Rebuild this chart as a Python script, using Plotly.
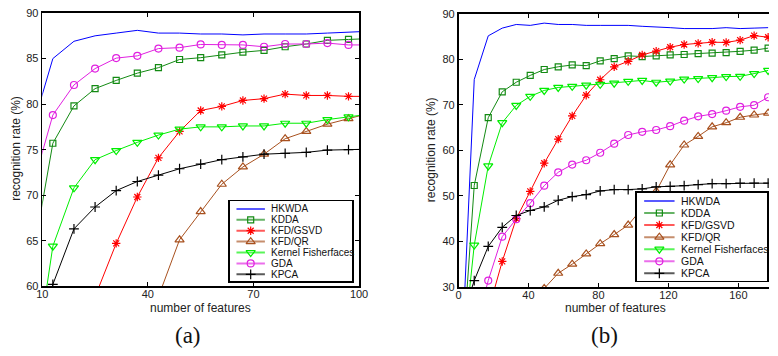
import plotly.graph_objects as go

W, H = 778, 356

# ---------------- data: panel (a) ----------------
features_a = [7, 13, 19, 25, 31, 37, 43, 49, 55, 61, 67, 73, 79, 85, 91, 97, 103]
hkwda_a = [77.1, 85.0, 86.9, 87.5, 87.8, 88.1, 87.8, 87.8, 87.7, 87.7, 87.6, 87.7, 87.7, 87.7, 87.8, 87.9, 88.0]
kdda_a = [62.5, 75.7, 79.8, 81.7, 82.6, 83.4, 84.0, 84.9, 85.1, 85.4, 85.7, 85.9, 86.3, 86.6, 87.0, 87.1, 87.2]
kfdgsvd_a = [42, 47, 53, 58.8, 64.7, 69.8, 74.1, 77.0, 79.3, 79.75, 80.4, 80.6, 81.1, 80.95, 80.95, 80.85, 80.85]
kfdqr_a = [30, 34, 38, 42, 47, 53, 58.85, 65.1, 68.2, 71.2, 73.1, 74.5, 76.2, 77.0, 77.8, 78.4, 79.0]
kfisher_a = [48.8, 64.4, 70.8, 73.9, 74.9, 75.8, 76.6, 77.25, 77.5, 77.5, 77.6, 77.6, 77.9, 77.9, 78.3, 78.6, 78.9]
gda_a = [70.6, 78.8, 82.1, 83.9, 85.05, 85.3, 86.1, 86.2, 86.55, 86.5, 86.5, 86.3, 86.6, 86.6, 86.7, 86.5, 86.5]
kpca_a = [50, 60.2, 66.3, 68.7, 70.5, 71.5, 72.2, 72.9, 73.4, 73.9, 74.2, 74.5, 74.6, 74.7, 74.95, 75.0, 75.05]

# ---------------- data: panel (b) ----------------
features_b = [1, 9, 17, 25, 33, 41, 49, 57, 65, 73, 81, 89, 97, 105, 113, 121, 129, 137, 145, 153, 161, 169, 177]
hkwda_b = [7, 75.6, 85.2, 86.9, 87.7, 87.5, 88.0, 87.7, 87.7, 87.5, 87.5, 87.5, 87.5, 87.3, 87.2, 87.0, 86.8, 86.8, 86.8, 87.0, 86.8, 86.9, 87.0]
kdda_b = [8, 52.3, 67.2, 72.9, 75.0, 76.5, 77.8, 78.4, 78.8, 78.65, 79.7, 80.2, 80.8, 80.65, 80.8, 81.0, 81.1, 81.3, 81.4, 81.5, 81.8, 82.05, 82.5]
kfdgsvd_b = [5, 15, 24.7, 35.6, 45.0, 51.0, 57.2, 62.5, 67.6, 72.15, 75.55, 78.4, 79.6, 81.0, 81.85, 82.7, 83.3, 83.55, 83.8, 83.75, 84.25, 85.25, 84.9]
kfdqr_b = [17, 19, 21, 23, 25, 27, 29.66, 33.0, 35.0, 37.25, 39.5, 41.5, 43.6, 47.3, 51.0, 56.85, 61.2, 63.1, 65.2, 66.1, 67.3, 67.8, 68.2]
kfisher_b = [10, 39.2, 56.6, 66.1, 69.9, 71.9, 73.2, 73.85, 74.1, 74.35, 74.55, 74.8, 75.2, 75.4, 75.0, 75.25, 75.7, 75.8, 76.0, 76.25, 76.3, 76.9, 77.6]
gda_b = [10, 20, 31.4, 41.05, 44.9, 48.4, 52.25, 55.2, 56.9, 57.85, 59.5, 61.5, 63.4, 64.1, 64.5, 65.35, 66.55, 67.5, 68.0, 68.75, 69.6, 69.95, 71.7]
kpca_b = [22, 31.4, 38.9, 43.1, 45.7, 46.8, 47.6, 49.05, 49.85, 50.3, 51.1, 51.4, 51.4, 51.55, 52.0, 52.1, 52.25, 52.5, 52.7, 52.7, 52.8, 52.8, 52.8]

names = ["HKWDA", "KDDA", "KFD/GSVD", "KFD/QR", "Kernel Fisherfaces", "GDA", "KPCA"]
ticks_a_x = [10, 40, 70, 100]
ticks_b_x = [0, 40, 80, 120, 160]

# ---------------- styles ----------------
colors = ["#0000FF", "#138A13", "#FF0000", "#A8511F", "#00EE00", "#E020E0", "#000000"]
symbols = [None, "square-open", "asterisk-open", "triangle-up-open",
           "triangle-down-open", "circle-open", "cross-thin-open"]
msizes = [0, 6, 7, 8, 8, 7, 7]

series_a = [hkwda_a, kdda_a, kfdgsvd_a, kfdqr_a, kfisher_a, gda_a, kpca_a]
series_b = [hkwda_b, kdda_b, kfdgsvd_b, kfdqr_b, kfisher_b, gda_b, kpca_b]


def px_x(p):
    return p / W


def px_y(p):
    return 1 - p / H


fig = go.Figure()


def add_series(xs, ys, i, xa, ya):
    mode = "lines" if symbols[i] is None else "lines+markers"
    marker = None
    if symbols[i] is not None:
        marker = dict(symbol=symbols[i], size=msizes[i], color=colors[i],
                      line=dict(color=colors[i], width=1.2))
    fig.add_trace(go.Scatter(x=xs, y=ys, mode=mode, xaxis=xa, yaxis=ya,
                             line=dict(color=colors[i], width=1),
                             marker=marker, showlegend=False, hoverinfo="skip"))


for i in range(len(names)):
    add_series(features_a, series_a[i], i, "x", "y")
for i in range(len(names)):
    add_series(features_b, series_b[i], i, "x2", "y2")

# ---------------- custom legends (compact, matching the original legend spacing) --------------
legends = [
    dict(ax="3", box=(228.3, 353.3, 202.3, 285.0), sample=(235, 264), textx=268.3, row0=210.0, step=11.28, fs=10),
    dict(ax="4", box=(643.3, 776.0, 193.3, 284.3), sample=(650.7, 681.7), textx=686.0, row0=201.7, step=12.5, fs=10.5),
]
annotations = []
legend_axes = {}
for lg in legends:
    l, r, t, b = lg["box"]
    s0, s1 = lg["sample"]
    u = s1 - s0
    xr = [(l - s0) / u, (r - s0) / u]
    yr = [(b - lg["row0"]) / lg["step"], (t - lg["row0"]) / lg["step"]]
    ax = lg["ax"]
    legend_axes["xaxis" + ax] = dict(domain=[px_x(l), px_x(r)], range=xr, anchor="y" + ax,
                                     showline=True, mirror=True, linecolor="black", linewidth=1.5,
                                     showgrid=False, zeroline=False, showticklabels=False,
                                     ticks="", fixedrange=True)
    legend_axes["yaxis" + ax] = dict(domain=[px_y(b), px_y(t)], range=yr, anchor="x" + ax,
                                     showline=True, mirror=True, linecolor="black", linewidth=1.5,
                                     showgrid=False, zeroline=False, showticklabels=False,
                                     ticks="", fixedrange=True)
    for i, nm in enumerate(names):
        fig.add_trace(go.Scatter(x=[0, 1], y=[i, i], mode="lines", xaxis="x" + ax, yaxis="y" + ax,
                                 line=dict(color=colors[i], width=2), opacity=0.65,
                                 showlegend=False, hoverinfo="skip"))
        if symbols[i] is not None:
            fig.add_trace(go.Scatter(x=[0.5], y=[i], mode="markers", xaxis="x" + ax, yaxis="y" + ax,
                                     marker=dict(symbol=symbols[i], size=msizes[i], color=colors[i],
                                                 line=dict(color=colors[i], width=1.2)),
                                     showlegend=False, hoverinfo="skip"))
        annotations.append(dict(x=(lg["textx"] - s0) / u, y=i, xref="x" + ax, yref="y" + ax,
                                text=nm, showarrow=False, xanchor="left", yanchor="middle",
                                font=dict(family="Liberation Sans, Arial", size=lg["fs"], color="#111")))

tickfont = dict(family="Liberation Sans, Arial", size=11, color="#222")
axis_common = dict(showline=True, linecolor="black", linewidth=1.6, ticks="inside",
                   ticklen=4, tickcolor="black", tickwidth=1, showgrid=False,
                   zeroline=False, tickfont=tickfont)

title_font = dict(family="Liberation Sans, Arial", size=12, color="#222")
annotations += [
    dict(x=px_x(198.5), y=px_y(313.0), xref="paper", yref="paper", text="number of features",
         showarrow=False, xanchor="center", yanchor="middle", font=title_font),
    dict(x=px_x(621.7), y=px_y(313.0), xref="paper", yref="paper", text="number of features",
         showarrow=False, xanchor="center", yanchor="middle", font=title_font),
    dict(x=px_x(9.5), y=px_y(147.5), xref="paper", yref="paper", text="recognition rate (%)",
         showarrow=False, textangle=-90, xanchor="center", yanchor="middle", font=title_font),
    dict(x=px_x(434.0), y=px_y(148.5), xref="paper", yref="paper", text="recognition rate (%)",
         showarrow=False, textangle=-90, xanchor="center", yanchor="middle", font=title_font),
    dict(x=px_x(186.0), y=px_y(341.0), xref="paper", yref="paper", text="(a)",
         showarrow=False, xanchor="center", yanchor="middle",
         font=dict(family="Liberation Serif, Times New Roman", size=23, color="#111")),
    dict(x=px_x(610.0), y=px_y(341.0), xref="paper", yref="paper", text="(b)",
         showarrow=False, xanchor="center", yanchor="middle",
         font=dict(family="Liberation Serif, Times New Roman", size=23, color="#111")),
]

fig.update_layout(
    width=W, height=H, margin=dict(l=0, r=0, t=0, b=0),
    paper_bgcolor="white", plot_bgcolor="white", showlegend=False,
    xaxis=dict(domain=[px_x(37), px_x(360)], range=[10, 100], tickvals=ticks_a_x,
               anchor="y", mirror="ticks", ticklabelstandoff=-3, **axis_common),
    yaxis=dict(domain=[px_y(290), px_y(7.3)], range=[60, 90], tick0=60, dtick=5,
               anchor="x", mirror="ticks", **axis_common),
    xaxis2=dict(domain=[px_x(461.4), 1.0], range=[0, 177.5], tickvals=ticks_b_x,
                anchor="y2", mirror="ticks", ticklabelstandoff=-3, **axis_common),
    yaxis2=dict(domain=[px_y(290.7), px_y(8.3)], range=[30, 90], tick0=30, dtick=10,
                anchor="x2", mirror=False, **axis_common),
    annotations=annotations,
    **legend_axes,
)

# remove the browser's default 8px body margin so the figure sits at the window origin
fig.write_html("out.html", config={"displayModeBar": False, "staticPlot": True},
               post_script="document.body.style.margin='0px';document.body.style.overflow='hidden';")
